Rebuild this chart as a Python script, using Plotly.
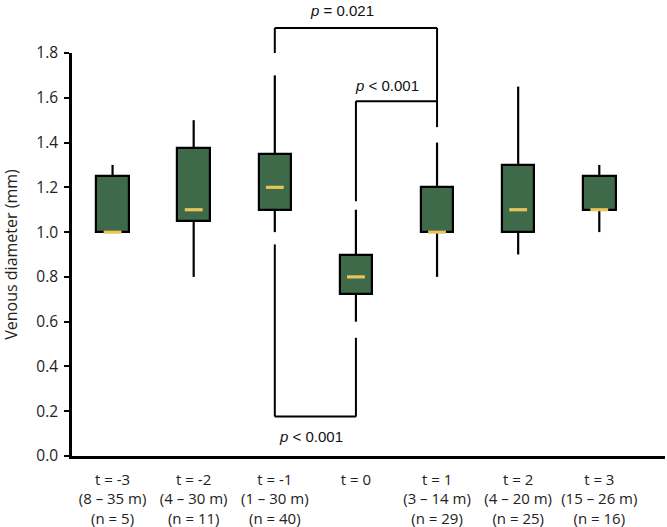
import plotly.graph_objects as go

# ---- data ----
tick_labels = [
    "t = -3<br>(8 – 35 m)<br>(n = 5)",
    "t = -2<br>(4 – 30 m)<br>(n = 11)",
    "t = -1<br>(1 – 30 m)<br>(n = 40)",
    "t = 0",
    "t = 1<br>(3 – 14 m)<br>(n = 29)",
    "t = 2<br>(4 – 20 m)<br>(n = 25)",
    "t = 3<br>(15 – 26 m)<br>(n = 16)",
]
q1 = [1.00, 1.05, 1.10, 0.725, 1.00, 1.00, 1.10]
median = [1.00, 1.10, 1.20, 0.80, 1.00, 1.10, 1.10]
q3 = [1.25, 1.375, 1.35, 0.90, 1.20, 1.30, 1.25]
whisk_lo = [1.00, 0.80, 1.00, 0.60, 0.80, 0.90, 1.00]
whisk_hi = [1.30, 1.50, 1.70, 1.10, 1.40, 1.65, 1.30]

# significance brackets
bracket_x_from = [2, 3, 2]
bracket_x_to = [4, 4, 3]
bracket_y_bar = [1.912, 1.585, 0.176]
bracket_end_from = [1.80, 1.138, 0.945]
bracket_end_to = [1.469, 1.585, 0.528]
bracket_labels = ["<i>p</i> = 0.021", "<i>p</i> < 0.001", "<i>p</i> < 0.001"]
label_x = [2.83, 3.38, 2.45]
label_y = [1.99, 1.655, 0.088]

# ---- styling ----
GREEN = "#3e6a49"
YELLOW = "#e8c45c"
XR = [-0.5, 6.81]
YR = [0.0, 1.8]
x = list(range(len(tick_labels)))

fig = go.Figure()

# whiskers
wx, wy = [], []
for i in x:
    wx += [i, i, None, i, i, None]
    wy += [q3[i], whisk_hi[i], None, whisk_lo[i], q1[i], None]
fig.add_trace(go.Scatter(x=wx, y=wy, mode="lines",
                         line=dict(color="black", width=2.2),
                         hoverinfo="skip", showlegend=False))

# boxes
fig.add_trace(go.Bar(x=x, y=[q3[i] - q1[i] for i in x], base=q1, width=0.4,
                     marker=dict(color=GREEN, line=dict(color="black", width=2.2)),
                     showlegend=False))

# medians
mx, my = [], []
for i in x:
    mx += [i - 0.11, i + 0.11, None]
    my += [median[i], median[i], None]
fig.add_trace(go.Scatter(x=mx, y=my, mode="lines",
                         line=dict(color=YELLOW, width=3.2),
                         hoverinfo="skip", showlegend=False))


def px(v):
    return (v - XR[0]) / (XR[1] - XR[0])


def py(v):
    return (v - YR[0]) / (YR[1] - YR[0])


line_style = dict(color="black", width=2)
for k in range(len(bracket_labels)):
    a, b = bracket_x_from[k], bracket_x_to[k]
    yb = bracket_y_bar[k]
    fig.add_shape(type="line", xref="paper", yref="paper",
                  x0=px(a), x1=px(b), y0=py(yb), y1=py(yb), line=line_style)
    fig.add_shape(type="line", xref="paper", yref="paper",
                  x0=px(a), x1=px(a), y0=py(yb), y1=py(bracket_end_from[k]), line=line_style)
    fig.add_shape(type="line", xref="paper", yref="paper",
                  x0=px(b), x1=px(b), y0=py(yb), y1=py(bracket_end_to[k]), line=line_style)
    fig.add_annotation(xref="paper", yref="paper", x=px(label_x[k]), y=py(label_y[k]),
                       xanchor="center", yanchor="middle",
                       text=bracket_labels[k], showarrow=False,
                       font=dict(family="Liberation Sans, Arial", size=15, color="#111"))

fig.update_layout(
    width=667, height=527,
    margin=dict(l=72, r=2, t=53, b=71, autoexpand=False),
    plot_bgcolor="white", paper_bgcolor="white",
    font=dict(family="Open Sans", size=15, color="#222"),
    bargap=0,
    xaxis=dict(range=XR, tickmode="array", tickvals=x, ticktext=tick_labels,
               showline=True, linecolor="black", linewidth=2.5,
               ticks="outside", ticklen=8, tickcolor="rgba(0,0,0,0)",
               showgrid=False, zeroline=False, tickfont=dict(size=15),
               automargin=False),
    yaxis=dict(range=YR, tickmode="array",
               tickvals=[0, 0.2, 0.4, 0.6, 0.8, 1.0, 1.2, 1.4, 1.6, 1.8],
               tickformat=".1f", showline=True, linecolor="black", linewidth=2.5,
               ticks="outside", ticklen=5, tickwidth=2, tickcolor="black",
               ticklabelstandoff=3,
               showgrid=False, zeroline=False, tickfont=dict(size=15.5),
               automargin=False,
               title=dict(text="Venous diameter (mm)", font=dict(size=16), standoff=16)),
)

# remove the page's default body margin so the figure sits at the window's corner
fig.write_html("out.html", config={"displayModeBar": False},
               post_script="document.body.style.margin='0';")
